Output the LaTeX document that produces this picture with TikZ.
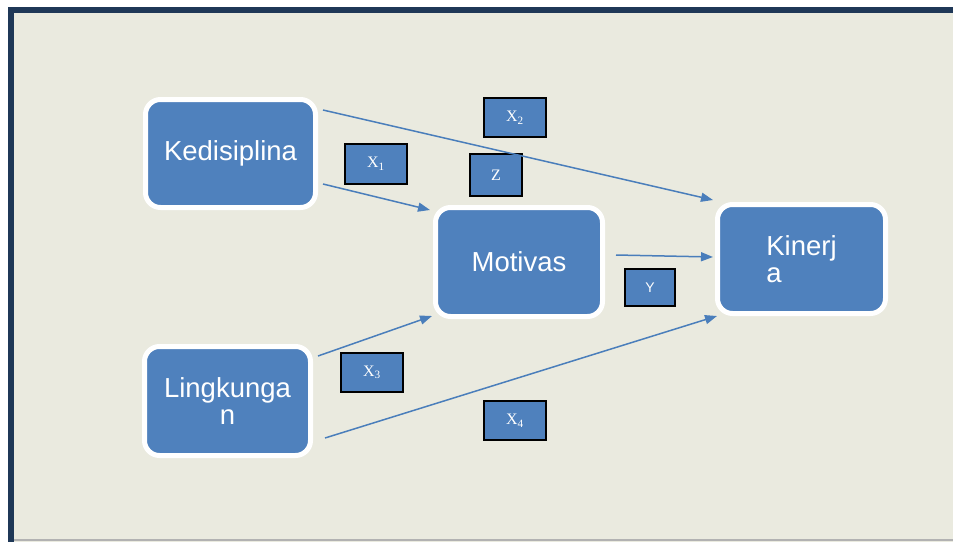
\documentclass[tikz,border=0pt]{standalone}
\usepackage{fontspec}
\setmainfont{Liberation Serif}
\setsansfont{Liberation Sans}
\usetikzlibrary{arrows.meta,positioning}
\definecolor{frameblue}{RGB}{31,56,87}
\definecolor{paper}{RGB}{234,234,223}
\definecolor{boxblue}{RGB}{79,129,189}
\definecolor{lineblue}{RGB}{74,126,187}

\tikzset{
  box/.style={draw=white, line width=5pt, fill=boxblue, rounded corners=15pt, text=white,
    font=\sffamily\fontsize{27.5}{27}\selectfont, inner sep=0pt},
  lbl/.style={draw=black, line width=2pt, fill=boxblue, text=white, inner sep=0pt,
    font=\fontsize{16}{18}\selectfont},
  link/.style={draw=lineblue, line width=1.5pt, -{Triangle[length=12pt,width=9pt]}}
}

\begin{document}
\begin{tikzpicture}[x=1pt, y=-1pt]
\clip (0,0) rectangle (953,541);
% background frame
\draw[frameblue, line width=6pt, fill=paper] (11,9.5) rectangle (970,560);
\draw[gray!60, line width=1.5pt] (14,540) -- (953,540);

% main boxes
\node[box, minimum width=170pt, minimum height=108pt] (ked) at (230.5,153.5) {Kedisiplina};
\node[box, minimum width=167pt, minimum height=109pt] (mot) at (519,262) {Motivas};
\node[box, minimum width=168pt, minimum height=109pt, align=left] (kin) at (801.5,259) {Kinerj\hspace{14pt}\\a};
\node[box, minimum width=166pt, minimum height=109pt, align=center] (lin) at (227.5,401) {Lingkunga\\n};

% path labels
\node[lbl, minimum width=62pt, minimum height=40pt] (x1) at (376,164) {X\textsubscript{1}};
\node[lbl, minimum width=62pt, minimum height=39pt] (x2) at (515,117.5) {X\textsubscript{2}};
\node[lbl, minimum width=52pt, minimum height=42pt] (z) at (496,175) {Z};
\node[lbl, minimum width=50pt, minimum height=37pt, font=\sffamily\fontsize{14}{16}\selectfont] (y) at (650,287.5) {Y};
\node[lbl, minimum width=62pt, minimum height=39pt] (x3) at (372,372.5) {X\textsubscript{3}};
\node[lbl, minimum width=62pt, minimum height=39pt] (x4) at (515,420.5) {X\textsubscript{4}};

% arrows
\draw[link] ([shift={(5,13)}]ked.north east) -- ([shift={(-2,-2)}]kin.north west);
\draw[link] ([shift={(5,-26)}]ked.south east) -- ([shift={(-3,5)}]mot.north west);
\draw[link] ([shift={(11,-7)}]mot.east) -- ([shift={(-2,-2)}]kin.west);
\draw[link] ([shift={(5,12)}]lin.north east) -- ([shift={(-1,-3)}]mot.south west);
\draw[link] ([shift={(12,-20)}]lin.south east) -- ([shift={(2,0)}]kin.south west);
\end{tikzpicture}
\end{document}
